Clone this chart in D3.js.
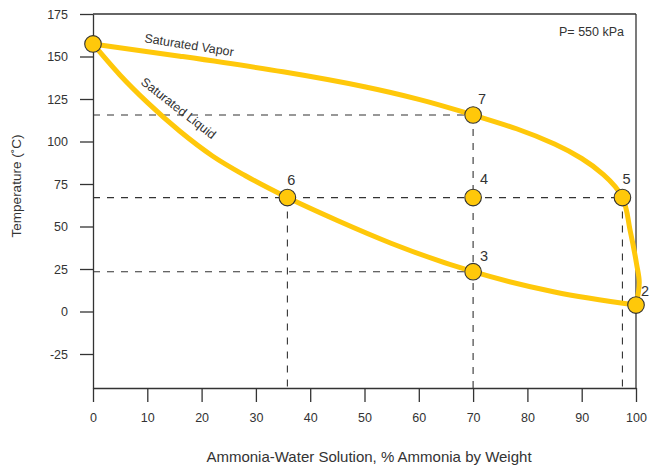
<!DOCTYPE html>
<html>
<head>
<meta charset="utf-8">
<script src="https://cdn.jsdelivr.net/npm/d3@7"></script>
<style>
  html, body { margin: 0; padding: 0; background: #fff; }
  svg { display: block; font-family: "Liberation Sans", Arial, Helvetica, sans-serif; }
</style>
</head>
<body>
<svg id="chart" width="651" height="466"></svg>
<script>
// ---- data ----
const xTicks = [0, 10, 20, 30, 40, 50, 60, 70, 80, 90, 100];
const yTicks = [-25, 0, 25, 50, 75, 100, 125, 150, 175];

const vaporX = [0, 16, 35, 50, 60, 70, 78, 85, 90, 94, 97.5, 98.9, 100.1, 100.6, 100];
const vaporY = [157.4, 150.2, 141.0, 132.2, 124.8, 115.6, 107.5, 98.5, 90.0, 80.5, 67.0, 48.0, 28.0, 17.0, 3.8];

const liquidX = [0, 5, 10, 16, 22, 28, 35.8, 45, 55, 70, 85, 100];
const liquidY = [157.4, 139.0, 123.0, 106.0, 91.5, 80.0, 67.0, 53.5, 40.0, 23.4, 11.5, 3.8];

const pointLabels = ["", "2", "3", "4", "5", "6", "7"];
const pointX = [0, 100, 70, 70, 97.5, 35.8, 70];
const pointY = [157.4, 3.8, 23.4, 67.0, 67.0, 67.0, 115.6];

// dashed guide lines: horizontal (from axis to x end) and vertical (from y start down to axis)
const guideHY = [115.6, 67.0, 23.4];
const guideHXEnd = [70, 97.5, 70];
const guideVX = [35.8, 70, 97.5];
const guideVYStart = [67.0, 115.6, 67.0];

const xTitle = "Ammonia-Water Solution, % Ammonia by Weight";
const yTitle = "Temperature (˚C)";
const pressureNote = "P= 550 kPa";

// ---- layout ----
const svg = d3.select("#chart");
const x = d3.scaleLinear().domain([0, 100]).range([93, 636]);
const y = d3.scaleLinear().domain([-45, 175]).range([388, 14]);
const ink = "#333";
const gold = "#FFC80A";

// frame: top and right
svg.append("line").attr("x1", x(0)).attr("x2", x(100)).attr("y1", y(175)).attr("y2", y(175))
  .attr("stroke", ink).attr("stroke-width", 1.3);
svg.append("line").attr("x1", x(100)).attr("x2", x(100)).attr("y1", y(175)).attr("y2", y(-45))
  .attr("stroke", ink).attr("stroke-width", 1.3);

// axes
const yAxis = svg.append("g").attr("transform", `translate(${x(0)},0)`)
  .call(d3.axisLeft(y).tickValues(yTicks).tickFormat(d => String(d))
    .tickSize(13).tickSizeOuter(0).tickPadding(12));
const xAxis = svg.append("g").attr("transform", `translate(0,${y(-45)})`)
  .call(d3.axisBottom(x).tickValues(xTicks).tickFormat(d => String(d))
    .tickSize(14).tickSizeOuter(0).tickPadding(11));
[xAxis, yAxis].forEach(g => {
  g.selectAll("path.domain").attr("stroke", ink).attr("stroke-width", 1.3);
  g.selectAll(".tick line").attr("stroke", ink).attr("stroke-width", 1.3);
  g.selectAll(".tick text").attr("fill", ink).attr("font-size", 12.5)
    .attr("font-family", "Liberation Sans, Arial, sans-serif");
});

// dashed guides
const guides = svg.append("g").attr("stroke", ink).attr("stroke-width", 1.1)
  .attr("stroke-dasharray", "7,7").attr("fill", "none");
guideHY.forEach((v, i) => {
  guides.append("line").attr("x1", x(0)).attr("x2", x(guideHXEnd[i]))
    .attr("y1", y(v)).attr("y2", y(v));
});
guideVX.forEach((v, i) => {
  guides.append("line").attr("x1", x(v)).attr("x2", x(v))
    .attr("y1", y(guideVYStart[i])).attr("y2", y(-45));
});

// curves
const vaporLine = d3.line().x(d => x(d[0])).y(d => y(d[1])).curve(d3.curveMonotoneY);
const liquidLine = d3.line().x(d => x(d[0])).y(d => y(d[1])).curve(d3.curveMonotoneX);
svg.append("path").datum(vaporX.map((v, i) => [v, vaporY[i]]))
  .attr("d", vaporLine).attr("fill", "none").attr("stroke", gold).attr("stroke-width", 5)
  .attr("stroke-linecap", "round");
svg.append("path").datum(liquidX.map((v, i) => [v, liquidY[i]]))
  .attr("d", liquidLine).attr("fill", "none").attr("stroke", gold).attr("stroke-width", 5)
  .attr("stroke-linecap", "round");

// curve labels
svg.append("text").attr("transform", "translate(189,46) rotate(9)")
  .attr("text-anchor", "middle").attr("dominant-baseline", "middle")
  .attr("font-size", 12.5).attr("fill", ink).text("Saturated Vapor");
svg.append("text").attr("transform", "translate(178,109) rotate(38)")
  .attr("text-anchor", "middle").attr("dominant-baseline", "middle")
  .attr("font-size", 12.5).attr("fill", ink).text("Saturated Liquid");

// points
const pts = pointX.map((v, i) => ({ x: v, y: pointY[i], label: pointLabels[i] }));
svg.append("g").selectAll("circle").data(pts).join("circle")
  .attr("cx", d => x(d.x)).attr("cy", d => y(d.y)).attr("r", 8.3)
  .attr("fill", gold).attr("stroke", ink).attr("stroke-width", 1.1);

// point labels (offsets relative to point)
const labelDX = { "2": 9, "3": 11, "4": 11, "5": 4, "6": 4, "7": 9 };
const labelDY = { "2": -13, "3": -15, "4": -17, "5": -17, "6": -16, "7": -15 };
svg.append("g").selectAll("text").data(pts.filter(d => d.label)).join("text")
  .attr("x", d => x(d.x) + labelDX[d.label]).attr("y", d => y(d.y) + labelDY[d.label])
  .attr("text-anchor", "middle").attr("dominant-baseline", "middle")
  .attr("font-size", 14.5).attr("fill", ink).text(d => d.label);

// pressure note
svg.append("text").attr("x", 624).attr("y", 33).attr("text-anchor", "end")
  .attr("dominant-baseline", "middle").attr("font-size", 12.5).attr("fill", ink).text(pressureNote);

// axis titles
svg.append("text").attr("x", 369).attr("y", 458).attr("text-anchor", "middle")
  .attr("dominant-baseline", "middle").attr("font-size", 15).attr("fill", ink).text(xTitle);
svg.append("text").attr("transform", "translate(17,186) rotate(-90)").attr("text-anchor", "middle")
  .attr("dominant-baseline", "middle").attr("font-size", 13.5).attr("fill", ink).text(yTitle);
</script>
</body>
</html>
